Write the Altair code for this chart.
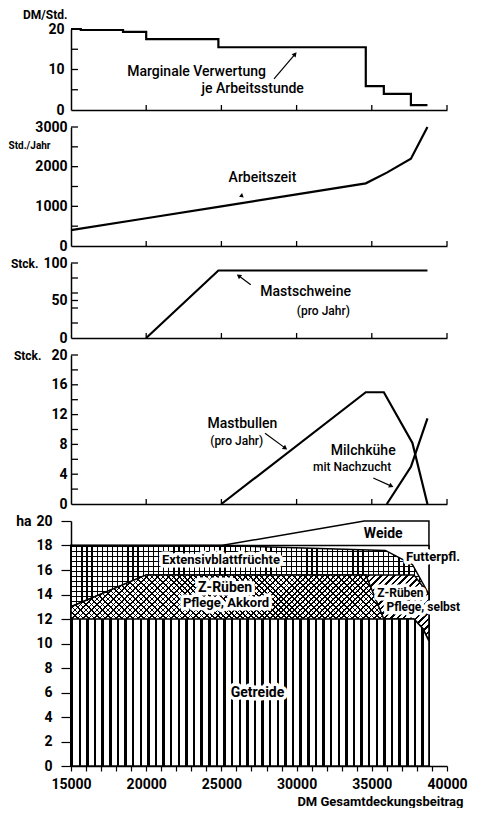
import math
import altair as alt
import pandas as pd

FONT = "Roboto"
PW = 376
XDOM = [15000, 40000]
H1, H2, H3, H4, H5 = 81, 119, 75, 149, 245

# ---------------- data ----------------
# panel 1: marginal return per working hour (DM/Std.)
marg_x = [15000, 15650, 18460, 20000, 24800, 34600, 35800, 37600, 38700]
marg_y = [20, 19.75, 19.3, 17.5, 15.5, 5.9, 4.0, 1.2, 1.2]
# panel 2: working time (Std./Jahr)
arb_x = [15000, 20000, 25000, 30000, 34600, 36000, 37600, 38700]
arb_y = [400, 700, 1000, 1300, 1580, 1850, 2200, 3000]
# panel 3: fattening pigs
schw_x = [20000, 24800, 38700]
schw_y = [0, 90, 90]
# panel 4: bulls and dairy cows
bull_x = [25000, 34600, 35800, 37700, 38700]
bull_y = [0, 15, 15, 8.2, 0]
kuh_x = [36000, 37600, 38700]
kuh_y = [0, 5, 11.5]
# panel 5: land use (upper boundaries, ha)
weide_x = [15000, 25000, 34500, 38800]
weide_y = [18, 18, 20, 20]
futter_x = [15000, 38800]
futter_y = [18, 18]
ext_x = [15000, 25000, 35900, 37700, 38800]
ext_y = [18, 18, 17.6, 16.45, 14.0]
selbst_x = [15000, 20000, 37800, 38800]
selbst_y = [13.0, 15.6, 15.6, 14.0]
akk_x = [15000, 20000, 34600, 35800, 37800, 38400, 38800]
akk_y = [13.0, 15.6, 15.6, 12, 12, 11.2, 10.2]
getr_x = [15000, 37800, 38400, 38800]
getr_y = [12, 12, 11.2, 10.2]

# tick values
x_inner_ticks = [20000, 25000, 30000, 35000, 40000]
p1_ticks = [5, 10, 15, 20]
p1_labels = [0, 10, 20]
p2_ticks = [500, 1000, 1500, 2000, 2500, 3000]
p2_labels = [0, 1000, 2000, 3000]
p3_ticks = [20, 40, 50, 60, 80, 100]
p3_labels = [0, 50, 100]
p4_ticks = [2, 4, 6, 8, 10, 12, 14, 16, 18, 20]
p4_labels = [0, 4, 8, 12, 16, 20]
p5_labels = [0, 2, 4, 6, 8, 10, 12, 14, 16, 18, 20]
x_ticks = list(range(15000, 40001, 1000))

# annotations
p1_text_x = [23350, 27080]
p1_text_y = [9.4, 5.2]
p1_text = ["Marginale Verwertung", "je Arbeitsstunde"]
p1_arrow = [28500, 7.7, 29900, 13.8]
p2_text_x = [27730]
p2_text_y = [1720]
p2_text = ["Arbeitszeit"]
p2_head = [26300, 1260]
p3_text_x = [30600]
p3_text_y = [61]
p3_text = ["Mastschweine"]
p3_sub_x = [31780]
p3_sub_y = [36.5]
p3_sub = ["(pro Jahr)"]
p3_arrow = [26950, 71, 26150, 83]
p4_text_x = [26400, 34430]
p4_text_y = [10.7, 7.1]
p4_text = ["Mastbullen", "Milchkühe"]
p4_sub_x = [26020, 33690]
p4_sub_y = [8.5, 4.9]
p4_sub = ["(pro Jahr)", "mit Nachzucht"]
p4_arrow1 = [27900, 9.5, 29250, 7.5]
p4_arrow2 = [35100, 3.5, 36300, 2.4]
p5_big_x = [27400, 35760, 25250]
p5_big_y = [6.0, 18.9, 14.5]
p5_big = ["Getreide", "Weide", "Z-Rüben"]
p5_mid_x = [24970, 25310, 39070]
p5_mid_y = [16.8, 13.3, 17.1]
p5_mid = ["Extensivblattfrüchte", "Pflege, Akkord", "Futterpfl."]
p5_small_x = [36900, 38420]
p5_small_y = [14.15, 13.0]
p5_small = ["Z-Rüben", "Pflege, selbst"]


# ---------------- helpers ----------------
def X(axis, field="x"):
    return alt.X(f"{field}:Q", scale=alt.Scale(domain=XDOM, nice=False, zero=False), axis=axis)


def Y(dom, axis, field="y"):
    return alt.Y(f"{field}:Q", scale=alt.Scale(domain=dom, nice=False, zero=False), axis=axis, stack=None)


def plain_x():
    return alt.Axis(title=None, labels=False, ticks=False, grid=False,
                    domainColor="black", domainWidth=1.5)


def left_axis(values, title, tsize, tx, ty, pad):
    return alt.Axis(values=values, format="d", ticks=False, labelPadding=pad, grid=False,
                    domainColor="black", domainWidth=1.5, title=title, titleAngle=0,
                    titleX=tx, titleY=ty, titleAlign="right", titleBaseline="middle",
                    titleFontSize=tsize, titleFontWeight="bold")


def line(xs, ys, dom, xa, ya, interp="linear"):
    return alt.Chart(pd.DataFrame({"x": xs, "y": ys})).mark_line(
        color="black", strokeWidth=2.2, interpolate=interp, strokeJoin="miter"
    ).encode(x=X(xa), y=Y(dom, ya))


def inner_yticks(vals, dom, xa, ya):
    return alt.Chart(pd.DataFrame({"y": vals})).mark_rule(color="black", strokeWidth=1.3).encode(
        y=Y(dom, ya), x=alt.value(0), x2=alt.value(7))


def inner_xticks(h, xa):
    return alt.Chart(pd.DataFrame({"x": x_inner_ticks})).mark_rule(color="black", strokeWidth=1.3).encode(
        x=X(xa), y=alt.value(h), y2=alt.value(h - 5))


def texts(xs, ys, ts, dom, xa, ya, size=14, weight="normal", halo=False, align="center"):
    base = alt.Chart(pd.DataFrame({"x": xs, "y": ys, "t": ts})).encode(
        x=X(xa), y=Y(dom, ya), text="t:N")
    out = []
    if halo:
        out.append(base.mark_text(font=FONT, fontSize=size, fontWeight=weight, align=align,
                                  color="white", stroke="white", strokeWidth=7, strokeJoin="round"))
    out.append(base.mark_text(font=FONT, fontSize=size, fontWeight=weight, align=align, color="black"))
    return out


def head_angle(tx, ty, hx, hy, dom, h):
    dxp = (hx - tx) * PW / (XDOM[1] - XDOM[0])
    dyp = -(hy - ty) * h / (dom[1] - dom[0])
    return math.degrees(math.atan2(dxp, -dyp)) % 360


def arrow(a, dom, h, xa, ya, size=28):
    tx, ty, hx, hy = a
    rule = alt.Chart(pd.DataFrame({"x": [tx], "y": [ty], "x2": [hx], "y2": [hy]})).mark_rule(
        color="black", strokeWidth=1.2).encode(x=X(xa), y=Y(dom, ya), x2="x2:Q", y2="y2:Q")
    head = alt.Chart(pd.DataFrame({"x": [hx], "y": [hy]})).mark_point(
        shape="triangle-up", filled=True, color="black", opacity=1, size=size,
        angle=head_angle(tx, ty, hx, hy, dom, h)).encode(x=X(xa), y=Y(dom, ya))
    return [rule, head]


def stripes(n, frac, direction, w, h, ink="black", gap="rgba(0,0,0,0)"):
    r = h / w
    k = (1 + r) / (1 + r * r)
    if direction == "v":
        c = (0, 0, 1, 0)
    elif direction == "h":
        c = (0, 0, 0, 1)
    elif direction == "/":
        c = (0, 0, k, k * r)
    else:
        c = (0, 1, k, 1 - k * r)
    stops = []
    for i in range(n):
        a = round(i / n, 6)
        b = round((i + frac) / n, 6)
        e = round((i + 1) / n, 6)
        stops += [{"offset": a, "color": ink}, {"offset": b, "color": ink},
                  {"offset": b, "color": gap}, {"offset": e, "color": gap}]
    return {"gradient": "linear", "stops": stops, "x1": c[0], "y1": c[1], "x2": c[2], "y2": c[3]}


def bbox(xs, ys):
    return PW * (max(xs) - min(xs)) / (XDOM[1] - XDOM[0]), H5 * max(ys) / 20


# ---------------- panel 1 ----------------
xa = plain_x()
ya1 = left_axis(p1_labels, "DM/Std.", 12, -4, -15, 7)
d1 = [0, 20]
p1 = alt.layer(
    line(marg_x, marg_y, d1, xa, ya1, "step-after"),
    inner_yticks(p1_ticks, d1, xa, ya1),
    inner_xticks(H1, xa),
    *arrow(p1_arrow, d1, H1, xa, ya1),
    *texts(p1_text_x, p1_text_y, p1_text, d1, xa, ya1, 14, 500),
).properties(width=PW, height=H1)

# ---------------- panel 2 ----------------
ya2 = left_axis(p2_labels, "Std./Jahr", 10, -21, 18, 4)
d2 = [0, 3000]
p2 = alt.layer(
    line(arb_x, arb_y, d2, xa, ya2),
    inner_yticks(p2_ticks, d2, xa, ya2),
    inner_xticks(H2, xa),
    alt.Chart(pd.DataFrame({"x": [p2_head[0]], "y": [p2_head[1]]})).mark_point(
        shape="triangle-up", filled=True, color="black", opacity=1, size=22, angle=250
    ).encode(x=X(xa), y=Y(d2, ya2)),
    *texts(p2_text_x, p2_text_y, p2_text, d2, xa, ya2, 14, 500),
).properties(width=PW, height=H2)

# ---------------- panel 3 ----------------
ya3 = left_axis(p3_labels, "Stck.", 12, -33, 0, 4)
d3 = [0, 100]
p3 = alt.layer(
    line(schw_x, schw_y, d3, xa, ya3),
    inner_yticks(p3_ticks, d3, xa, ya3),
    inner_xticks(H3, xa),
    *arrow(p3_arrow, d3, H3, xa, ya3),
    *texts(p3_text_x, p3_text_y, p3_text, d3, xa, ya3, 14, 500),
    *texts(p3_sub_x, p3_sub_y, p3_sub, d3, xa, ya3, 12, 500),
).properties(width=PW, height=H3)

# ---------------- panel 4 ----------------
ya4 = left_axis(p4_labels, "Stck.", 12, -30, 0, 4)
d4 = [0, 20]
p4 = alt.layer(
    line(bull_x, bull_y, d4, xa, ya4),
    line(kuh_x, kuh_y, d4, xa, ya4),
    inner_yticks(p4_ticks, d4, xa, ya4),
    inner_xticks(H4, xa),
    *arrow(p4_arrow1, d4, H4, xa, ya4),
    *arrow(p4_arrow2, d4, H4, xa, ya4),
    *texts(p4_text_x, p4_text_y, p4_text, d4, xa, ya4, 14, 500),
    *texts(p4_sub_x, p4_sub_y, p4_sub, d4, xa, ya4, 12, 500),
).properties(width=PW, height=H4)

# ---------------- panel 5 ----------------
xa5 = alt.Axis(values=x_ticks, format="d",
               labelExpr="datum.value % 5000 === 0 ? datum.label : ''",
               tickSize=5, tickWidth=1.2, labelPadding=6, domainWidth=1.5, grid=False,
               labelFlush=False, title="DM Gesamtdeckungsbeitrag", titleFontSize=13,
               titleFontWeight="bold", titleX=PW + 16, titleY=35, titleAlign="right",
               titleBaseline="middle")
ya5 = alt.Axis(values=p5_labels, format="d", tickSize=10, tickWidth=1.2, labelPadding=9,
               domainWidth=1.5, grid=False, title="ha", titleFontSize=14, titleFontWeight="bold",
               titleAngle=0, titleX=-40, titleY=0, titleAlign="right", titleBaseline="middle")
d5 = [0, 20]


def area(xs, ys, fill, stroke=False):
    kw = dict(fill=fill, opacity=1, fillOpacity=1, interpolate="linear")
    if stroke:
        kw.update(stroke="black", strokeWidth=1.5, strokeJoin="miter")
    return alt.Chart(pd.DataFrame({"x": xs, "y": ys})).mark_area(**kw).encode(
        x=X(xa5), y=Y(d5, ya5))


wE, hE = bbox(ext_x, ext_y)
wS, hS = bbox(selbst_x, selbst_y)
wA, hA = bbox(akk_x, akk_y)
wG, hG = bbox(getr_x, getr_y)

p5 = alt.layer(
    area(weide_x, weide_y, "white", True),
    area(futter_x, futter_y, "white", True),
    area(ext_x, ext_y, "white"),
    area(ext_x, ext_y, stripes(70, 0.25, "v", wE, hE)),
    area(ext_x, ext_y, stripes(44, 0.25, "h", wE, hE), True),
    area(selbst_x, selbst_y, "white"),
    area(selbst_x, selbst_y, stripes(85, 0.37, "/", wS, hS), True),
    area(akk_x, akk_y, "white"),
    area(akk_x, akk_y, stripes(100, 0.3, "/", wA, hA)),
    area(akk_x, akk_y, stripes(100, 0.3, "\\", wA, hA), True),
    area(getr_x, getr_y, "white"),
    area(getr_x, getr_y, stripes(47, 0.32, "v", wG, hG), True),
    *texts(p5_big_x, p5_big_y, p5_big, d5, xa5, ya5, 14, "bold", halo=True),
    *texts(p5_mid_x, p5_mid_y, p5_mid, d5, xa5, ya5, 13, "bold", halo=True),
    *texts(p5_small_x, p5_small_y, p5_small, d5, xa5, ya5, 12, "bold", halo=True),
).properties(width=PW, height=H5)

chart = alt.vconcat(p1, p2, p3, p4, p5, spacing=17, bounds="flush", padding=0).configure_view(
    stroke=None
).configure_axis(
    labelFont=FONT, labelFontSize=14, labelFontWeight="bold", labelColor="black",
    titleFont=FONT, titleColor="black", domainColor="black", tickColor="black"
)

chart.save("out.html", embed_options={"renderer": "svg", "actions": False})
